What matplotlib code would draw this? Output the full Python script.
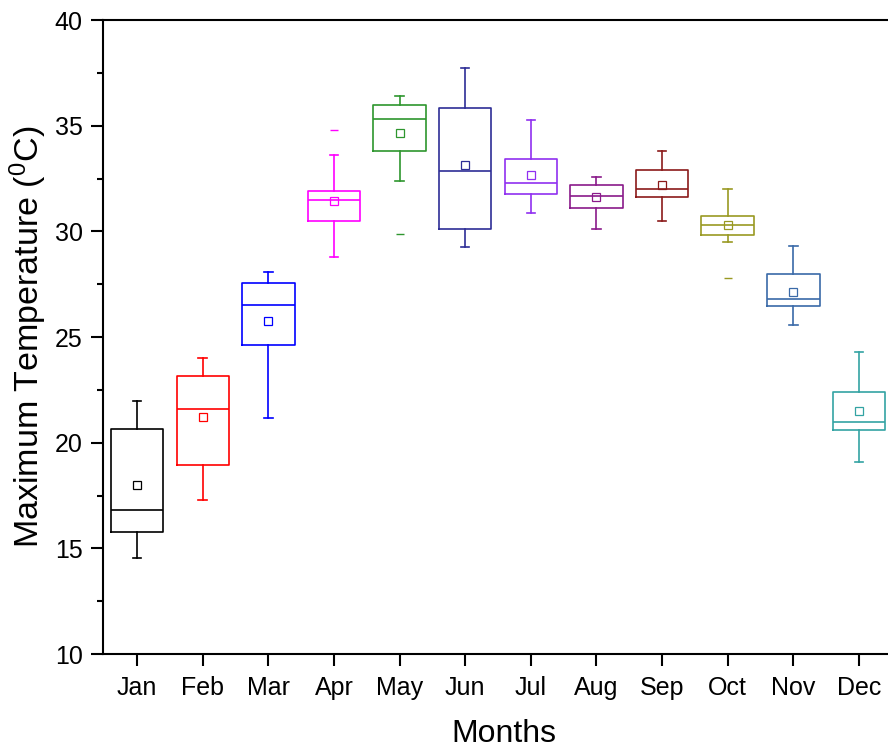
#!/usr/bin/env python3
"""Monthly maximum temperature box plots (Origin-style)."""

import matplotlib
matplotlib.use("Agg")
import matplotlib.pyplot as plt
from matplotlib.ticker import MultipleLocator

months = ["Jan", "Feb", "Mar", "Apr", "May", "Jun",
          "Jul", "Aug", "Sep", "Oct", "Nov", "Dec"]

# box statistics (deg C)
whisker_low = [14.55, 17.27, 21.16, 28.78, 32.38, 29.27,
               30.88, 30.09, 30.49, 29.51, 25.58, 19.08]
q1 = [15.78, 18.96, 24.63, 30.49, 33.79, 30.12,
      31.75, 31.09, 31.61, 29.84, 26.48, 20.58]
median = [16.81, 21.57, 26.50, 31.48, 35.31, 32.85,
          32.29, 31.65, 32.00, 30.31, 26.81, 20.99]
q3 = [20.66, 23.17, 27.54, 31.89, 35.99, 35.85,
      33.44, 32.19, 32.90, 30.74, 27.98, 22.38]
whisker_high = [21.98, 23.99, 28.07, 33.60, 36.40, 37.71,
                35.28, 32.59, 33.82, 32.00, 29.29, 24.27]
means = [18.00, 21.21, 25.77, 31.45, 34.67, 33.15,
         32.68, 31.63, 32.19, 30.28, 27.14, 21.48]
outliers = [[], [], [], [34.79], [29.89], [],
            [], [], [], [27.77], [], []]

colors = ["#000000", "#ff0000", "#0000ff", "#ff00ff", "#2e962e", "#2e2e96",
          "#9030f0", "#8a1a8a", "#8b1a1a", "#999922", "#3a6aa8", "#33a3a3"]

plt.rcParams["font.family"] = ["Liberation Sans", "DejaVu Sans"]
plt.rcParams["mathtext.fontset"] = "custom"
plt.rcParams["mathtext.rm"] = "Liberation Sans"
plt.rcParams["mathtext.it"] = "Liberation Sans"

fig = plt.figure(figsize=(8.88, 7.5), dpi=100)
ax = fig.add_axes([0.116, 0.128, 0.903, 0.8453])

stats = []
for i, m in enumerate(months):
    stats.append({
        "label": m,
        "whislo": whisker_low[i],
        "q1": q1[i],
        "med": median[i],
        "q3": q3[i],
        "whishi": whisker_high[i],
        "mean": means[i],
        "fliers": outliers[i],
    })

positions = list(range(1, len(months) + 1))
art = ax.bxp(
    stats,
    positions=positions,
    widths=0.8,
    capwidths=0.13,
    showmeans=True,
    boxprops=dict(linewidth=1.2),
    whiskerprops=dict(linewidth=1.2),
    capprops=dict(linewidth=1.2),
    medianprops=dict(linewidth=1.2),
    meanprops=dict(marker="s", markersize=5.5, markerfacecolor="none",
                   markeredgewidth=0.9),
    flierprops=dict(marker="_", markersize=6, markeredgewidth=1.0),
)

for i, c in enumerate(colors):
    art["boxes"][i].set_color(c)
    art["medians"][i].set_color(c)
    art["means"][i].set_markeredgecolor(c)
    art["fliers"][i].set_markeredgecolor(c)
    for k in (2 * i, 2 * i + 1):
        art["whiskers"][k].set_color(c)
        art["caps"][k].set_color(c)

ax.set_xlim(0.48, 12.7)
ax.set_ylim(10, 40)
ax.set_xticks(positions)
ax.set_xticklabels(months)
ax.yaxis.set_major_locator(MultipleLocator(5))
ax.yaxis.set_minor_locator(MultipleLocator(2.5))

ax.tick_params(axis="both", which="major", direction="out", length=8.5,
               width=1.5, labelsize=18)
ax.tick_params(axis="x", which="major", pad=7)
ax.tick_params(axis="y", which="major", pad=6)
ax.tick_params(axis="y", which="minor", direction="out", length=4.4, width=1.5)

for side in ("left", "bottom", "top", "right"):
    ax.spines[side].set_linewidth(1.5)

ax.set_xlabel("Months", fontsize=23, labelpad=14)
ax.set_ylabel(r"Maximum Temperature ($^0$C)", fontsize=24.5, labelpad=4)

fig.savefig("out.png", dpi=100)
plt.close(fig)
